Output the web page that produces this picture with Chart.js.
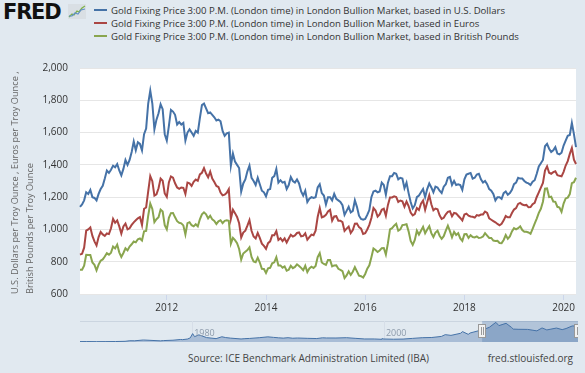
<!DOCTYPE html>
<html>
<head>
<meta charset="utf-8">
<title>Gold Fixing Price 3:00 P.M. (London time)</title>
<script src="https://cdn.jsdelivr.net/npm/chart.js@4.4.1/dist/chart.umd.min.js"></script>
<style>
  html, body { margin: 0; padding: 0; }
  body {
    width: 585px; height: 373px; overflow: hidden; position: relative;
    background: #e1e9f0; color: #333; font-family: "Open Sans", sans-serif;
  }
  #logo { position: absolute; left: 3px; top: 0px; font: bold 21px "DejaVu Sans", sans-serif; letter-spacing: -1.2px; color: #111; }
  #logo-icon { position: absolute; left: 68px; top: 4px; }
  #legend { position: absolute; left: 94px; top: 4px; font-size: 9.6px; }
  #legend .row { height: 13px; line-height: 13px; white-space: nowrap; }
  #legend .swatch { display: inline-block; width: 13px; height: 2px; vertical-align: middle; margin-right: 4px; position: relative; top: -1px; }
  #main { position: absolute; left: 0; top: 50px; width: 585px; height: 266px; }
  #nav { position: absolute; left: 80px; top: 321px; width: 498px; height: 21px; }
  #source { position: absolute; left: 188px; top: 351px; font-size: 10px; color: #444; }
  #site { position: absolute; right: 12px; top: 351px; font-size: 10px; color: #444; }
</style>
</head>
<body>
<div id="logo">FRED</div>
<svg id="logo-icon" width="18" height="15" viewBox="0 0 18 15">
  <rect x="0" y="0" width="18" height="15" fill="#d9dfe4"/>
  <polyline points="1,13 4,10 6,11 9,7 11,8 14,4 17,2" fill="none" stroke="#7fb24c" stroke-width="1.3"/>
  <polyline points="1,12 4,12 7,9 10,10 13,6 17,5" fill="none" stroke="#5f8fcb" stroke-width="1.1"/>
</svg>
<div id="legend"></div>
<div id="main"><canvas id="chart"></canvas></div>
<div id="nav"><canvas id="navchart"></canvas></div>
<div id="source">Source: ICE Benchmark Administration Limited (IBA)</div>
<div id="site">fred.stlouisfed.org</div>
<script>
// observations on the 1st and 15th of each month, 1 Apr 2010 .. 1 Apr 2020
const startYear = 2010;
const startMonth = 4;

const usd = [
  1140, 1155, 1180, 1230, 1220, 1245, 1200, 1195, 1180, 1220, 1250, 1270, 1315, 1365, 1350, 1370, 1395, 1385,
  1405, 1365, 1335, 1375, 1430, 1400, 1430, 1480, 1545, 1490, 1540, 1530, 1490, 1590, 1625, 1780, 1860, 1780, 1620, 1680, 1720, 1775, 1745, 1590,
  1550, 1640, 1740, 1730, 1710, 1650, 1665, 1650, 1660, 1550, 1600, 1620, 1600, 1580, 1610, 1600, 1690, 1770, 1780, 1750, 1720, 1725, 1710, 1695,
  1675, 1680, 1670, 1610, 1580, 1595, 1600, 1395, 1470, 1420, 1400, 1380, 1235, 1285, 1310, 1360, 1395, 1320, 1300, 1275, 1320, 1280, 1240, 1230,
  1205, 1245, 1250, 1320, 1330, 1375, 1290, 1305, 1290, 1295, 1250, 1275, 1325, 1300, 1290, 1310, 1285, 1235, 1210, 1240, 1170, 1190, 1200, 1195,
  1200, 1260, 1280, 1225, 1210, 1155, 1200, 1200, 1180, 1220, 1190, 1180, 1170, 1150, 1090, 1115, 1140, 1105, 1115, 1180, 1140, 1085, 1065, 1060,
  1065, 1090, 1120, 1200, 1235, 1240, 1230, 1235, 1290, 1275, 1215, 1290, 1330, 1330, 1350, 1345, 1310, 1320, 1315, 1255, 1290, 1225, 1170, 1130,
  1150, 1200, 1210, 1230, 1250, 1200, 1250, 1285, 1260, 1230, 1265, 1260, 1240, 1225, 1265, 1280, 1320, 1325, 1275, 1300, 1275, 1280, 1275, 1245,
  1310, 1340, 1345, 1350, 1315, 1320, 1340, 1345, 1310, 1290, 1300, 1280, 1250, 1240, 1220, 1180, 1200, 1200, 1190, 1225, 1235, 1215, 1225, 1245,
  1280, 1290, 1320, 1315, 1315, 1300, 1290, 1285, 1275, 1295, 1305, 1345, 1390, 1410, 1430, 1515, 1530, 1500, 1480, 1490, 1510, 1470, 1465, 1475,
  1520, 1550, 1580, 1585, 1660, 1590, 1510
];

const eur = [
  844, 849, 887, 992, 1000, 1012, 960, 926, 901, 953, 984, 969, 960, 975, 971, 1007, 1065, 1041,
  1056, 1019, 974, 1019, 1036, 1000, 1007, 1028, 1044, 1057, 1069, 1077, 1028, 1128, 1136, 1236, 1330, 1299, 1209, 1217, 1255, 1315, 1302, 1223,
  1202, 1291, 1328, 1321, 1286, 1260, 1252, 1260, 1258, 1220, 1290, 1286, 1270, 1295, 1309, 1301, 1341, 1351, 1380, 1346, 1323, 1358, 1315, 1294,
  1269, 1263, 1228, 1211, 1215, 1227, 1250, 1065, 1122, 1101, 1077, 1038, 950, 981, 992, 1023, 1057, 992, 956, 944, 978, 948, 912, 898,
  880, 915, 926, 964, 964, 989, 935, 946, 928, 945, 919, 944, 967, 956, 963, 978, 981, 957, 960, 976, 936, 952, 968, 964,
  992, 1077, 1133, 1075, 1080, 1090, 1111, 1121, 1054, 1080, 1082, 1054, 1054, 1045, 991, 1005, 1018, 978, 996, 1035, 1036, 1014, 1005, 972,
  977, 1000, 1028, 1071, 1133, 1117, 1079, 1093, 1122, 1128, 1085, 1152, 1198, 1198, 1205, 1201, 1170, 1179, 1174, 1141, 1173, 1145, 1104, 1087,
  1095, 1132, 1120, 1160, 1179, 1121, 1168, 1212, 1156, 1118, 1129, 1125, 1088, 1065, 1072, 1094, 1109, 1113, 1081, 1102, 1099, 1085, 1071, 1055,
  1092, 1098, 1085, 1080, 1078, 1073, 1089, 1085, 1092, 1093, 1111, 1103, 1068, 1060, 1052, 1044, 1034, 1026, 1035, 1056, 1083, 1075, 1075, 1102,
  1123, 1132, 1158, 1164, 1154, 1150, 1152, 1137, 1138, 1156, 1165, 1201, 1230, 1259, 1288, 1365, 1391, 1351, 1345, 1355, 1360, 1336, 1332, 1329,
  1357, 1396, 1423, 1468, 1505, 1432, 1405
];

const gbp = [
  750, 750, 776, 842, 841, 841, 795, 781, 747, 782, 806, 814, 832, 853, 844, 856, 894, 882,
  906, 858, 829, 854, 883, 870, 894, 908, 925, 920, 939, 944, 931, 988, 991, 1085, 1160, 1127, 1045, 1063, 1075, 1123, 1111, 1026,
  1000, 1072, 1101, 1102, 1075, 1051, 1041, 1038, 1025, 969, 1039, 1045, 1026, 1019, 1032, 1019, 1063, 1093, 1106, 1094, 1068, 1085, 1062, 1053,
  1034, 1050, 1057, 1039, 1053, 1056, 1053, 912, 948, 934, 915, 879, 813, 851, 862, 872, 889, 830, 802, 797, 825, 795, 756, 755,
  730, 759, 762, 790, 796, 828, 777, 777, 763, 771, 744, 750, 775, 760, 768, 784, 774, 762, 747, 775, 736, 758, 769, 761,
  774, 829, 853, 795, 786, 780, 811, 811, 771, 777, 778, 756, 750, 742, 699, 715, 740, 718, 738, 766, 740, 714, 710, 702,
  724, 757, 778, 828, 882, 873, 860, 870, 884, 885, 844, 915, 1000, 1008, 1023, 1035, 992, 1000, 1027, 1029, 1032, 988, 929, 904,
  935, 992, 968, 992, 1016, 976, 1000, 1020, 977, 953, 981, 992, 961, 942, 958, 992, 1023, 989, 951, 985, 966, 977, 944, 929,
  970, 971, 947, 964, 953, 950, 957, 947, 949, 956, 977, 962, 947, 947, 931, 929, 930, 916, 915, 935, 965, 942, 957, 988,
  1008, 1000, 1008, 1019, 996, 985, 985, 981, 973, 1004, 1036, 1067, 1103, 1128, 1172, 1252, 1254, 1200, 1203, 1173, 1171, 1140, 1136, 1109,
  1160, 1192, 1197, 1219, 1287, 1293, 1320
];

const seriesNames = [
  "Gold Fixing Price 3:00 P.M. (London time) in London Bullion Market, based in U.S. Dollars",
  "Gold Fixing Price 3:00 P.M. (London time) in London Bullion Market, based in Euros",
  "Gold Fixing Price 3:00 P.M. (London time) in London Bullion Market, based in British Pounds",
];
const seriesColors = ["#4572a7", "#aa4643", "#89a54e"];
const yTitle = ["U.S. Dollars per Troy Ounce , Euros per Troy Ounce ,", "British Pounds per Troy Ounce"];
const tickYears = [2012, 2014, 2016, 2018, 2020];

// navigator: whole USD history, coarse
const navX = [
  1968.3, 1969, 1970, 1971, 1972, 1973, 1973.5, 1974, 1974.9, 1975.5, 1976.7, 1977, 1978, 1978.8, 1979,
  1979.5, 1979.8, 1980.05, 1980.25, 1980.7, 1981, 1981.5, 1982.5, 1983.1, 1983.5, 1984, 1985.1, 1985.5,
  1986, 1987, 1987.9, 1988.5, 1989, 1989.5, 1990, 1990.5, 1991, 1992, 1993, 1993.6, 1994, 1995, 1996.1,
  1997, 1998, 1999, 1999.7, 1999.8, 2000, 2001, 2002, 2003, 2004, 2005, 2006, 2006.4, 2007, 2008, 2008.2,
  2008.8, 2009, 2010, 2010.25, 2011, 2011.68, 2012, 2012.75, 2013.3, 2013.5, 2014, 2015, 2015.96, 2016.5,
  2017, 2018, 2018.6, 2019, 2019.65, 2020, 2020.17, 2020.25
];
const navGold = [
  38, 42, 35, 38, 46, 65, 120, 115, 190, 165, 110, 135, 170, 240, 225,
  280, 390, 800, 510, 680, 590, 420, 320, 500, 420, 370, 290, 320,
  340, 410, 490, 440, 400, 370, 410, 360, 380, 350, 330, 400, 385, 380, 410,
  350, 290, 290, 260, 320, 285, 265, 280, 345, 410, 430, 530, 700, 630, 830, 990,
  730, 860, 1100, 1140, 1400, 1870, 1560, 1780, 1400, 1230, 1210, 1200, 1060, 1340,
  1150, 1330, 1180, 1280, 1530, 1520, 1660, 1510
];
const navGridYears = [1980, 2000];
const navRange = [2010.25, 2020.25];

const dates = [];
for (let i = 0; i < usd.length; i++) {
  const m = startMonth - 1 + Math.floor(i / 2);
  const mm = String((m % 12) + 1).padStart(2, "0");
  dates.push(`${startYear + Math.floor(m / 12)}-${mm}-${i % 2 ? "15" : "01"}`);
}

document.getElementById("legend").innerHTML = seriesNames
  .map((n, i) => `<div class="row"><span class="swatch" style="background:${seriesColors[i]}"></span>${n}</div>`)
  .join("");

Chart.defaults.font.family = '"Open Sans", sans-serif';
Chart.defaults.animation = false;

const plotBackground = {
  id: "plotBackground",
  beforeDraw(chart) {
    const { ctx, chartArea: a } = chart;
    ctx.save();
    ctx.fillStyle = "#ffffff";
    ctx.fillRect(a.left, a.top, a.right - a.left, a.bottom - a.top);
    ctx.restore();
  },
};

new Chart(document.getElementById("chart"), {
  type: "line",
  data: {
    labels: dates,
    datasets: [usd, eur, gbp].map((vals, i) => ({
      label: seriesNames[i],
      data: vals,
      borderColor: seriesColors[i],
      borderWidth: 2,
      pointRadius: 0,
      tension: 0,
      fill: false,
    })),
  },
  options: {
    responsive: true,
    maintainAspectRatio: false,
    layout: { padding: { top: 9, right: 9, left: 0, bottom: 0 } },
    plugins: { legend: { display: false }, tooltip: { enabled: false } },
    scales: {
      x: {
        type: "category",
        grid: { drawOnChartArea: false, drawTicks: true, tickLength: 6, color: "#ccd6eb" },
        border: { display: false },
        ticks: {
          autoSkip: false, maxRotation: 0, padding: 2, color: "#333", font: { size: 10 },
          callback: (v) => dates[v].slice(0, 4),
        },
        afterBuildTicks: (s) => {
          s.ticks = tickYears.map((y) => ({ value: dates.indexOf(y + "-01-01") }));
        },
        afterFit: (s) => { s.height = 22; },
      },
      y: {
        min: 600,
        max: 2000,
        grid: { color: "#e6e6e6", drawTicks: false },
        border: { display: false },
        ticks: {
          stepSize: 200, padding: 12, color: "#333", font: { size: 10 },
          callback: (v) => v.toLocaleString("en-US"),
        },
        title: {
          display: true, text: yTitle, align: "start", color: "#666",
          font: { size: 9.2, lineHeight: 1.65 }, padding: { top: 8, bottom: 0 },
        },
        afterFit: (s) => { s.width = 80; },
      },
    },
  },
  plugins: [plotBackground],
});

const navDecor = {
  id: "navDecor",
  beforeDatasetsDraw(chart) {
    const { ctx, chartArea: a, scales: { x } } = chart;
    ctx.save();
    ctx.strokeStyle = "#cbd5e0";
    ctx.lineWidth = 1;
    ctx.beginPath();
    ctx.moveTo(a.left, a.top + 0.5);
    ctx.lineTo(a.right, a.top + 0.5);
    ctx.stroke();
    ctx.strokeStyle = "#d6dee8";
    navGridYears.forEach((yr) => {
      const px = Math.round(x.getPixelForValue(yr)) + 0.5;
      ctx.beginPath();
      ctx.moveTo(px, a.top);
      ctx.lineTo(px, a.bottom);
      ctx.stroke();
    });
    ctx.restore();
  },
  afterDatasetsDraw(chart) {
    const { ctx, chartArea: a, scales: { x } } = chart;
    ctx.save();
    ctx.font = '9px "Open Sans", sans-serif';
    ctx.fillStyle = "#8d9bab";
    ctx.textBaseline = "alphabetic";
    navGridYears.forEach((yr) => {
      ctx.fillText(String(yr), x.getPixelForValue(yr) + 2, a.top + 15);
    });
    const x0 = x.getPixelForValue(navRange[0]);
    const x1 = x.getPixelForValue(navRange[1]);
    ctx.fillStyle = "rgba(69, 114, 167, 0.3)";
    ctx.fillRect(x0, a.top, x1 - x0, a.bottom - a.top);
    [x0, x1].forEach((px) => {
      px = Math.round(px);
      ctx.fillStyle = "#f2f2f2";
      ctx.strokeStyle = "#999";
      ctx.fillRect(px - 3.5, a.top + 3.5, 7, 13);
      ctx.strokeRect(px - 3.5, a.top + 3.5, 7, 13);
      ctx.beginPath();
      ctx.moveTo(px - 0.5, a.top + 6);
      ctx.lineTo(px - 0.5, a.top + 14);
      ctx.moveTo(px + 1.5, a.top + 6);
      ctx.lineTo(px + 1.5, a.top + 14);
      ctx.stroke();
    });
    ctx.restore();
  },
};

new Chart(document.getElementById("navchart"), {
  type: "line",
  data: {
    datasets: [{
      data: navX.map((t, i) => ({ x: t, y: navGold[i] })),
      borderColor: "#4572a7",
      backgroundColor: "#a9bdd6",
      borderWidth: 1,
      pointRadius: 0,
      fill: "origin",
    }],
  },
  options: {
    responsive: true,
    maintainAspectRatio: false,
    layout: { padding: 0 },
    plugins: { legend: { display: false }, tooltip: { enabled: false } },
    scales: {
      x: { type: "linear", min: 1968.3, max: 2020.25, display: false },
      y: { min: 0, max: 2000, display: false },
    },
  },
  plugins: [navDecor],
});
</script>
</body>
</html>
